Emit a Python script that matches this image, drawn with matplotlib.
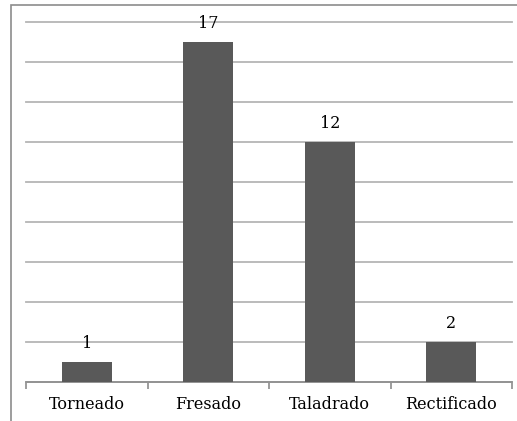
import matplotlib.pyplot as plt
from matplotlib.patches import Rectangle

categories = ["Torneado", "Fresado", "Taladrado", "Rectificado"]
values = [1, 17, 12, 2]

fig = plt.figure(figsize=(5.17, 4.21), dpi=100)
# outer frame (cropped at right and bottom in the reference)
fig.patches.append(Rectangle((11 / 517, -0.1), 1.0, (421 - 5) / 421 + 0.1,
                             transform=fig.transFigure, fill=False,
                             edgecolor="#8c8c8c", linewidth=1.2))

ax = fig.add_axes([26 / 517, 39 / 421, (512 - 26) / 517, (382 - 22) / 421])
x = range(len(categories))
ax.bar(x, values, width=0.41, color="#595959", zorder=3)
ax.set_xlim(-0.5, len(categories) - 0.5)
ax.set_ylim(0, 18)
ax.set_yticks(range(0, 19, 2))
ax.yaxis.grid(True, color="#b5b5b5", linewidth=1.3, zorder=0)
for gl in ax.get_ygridlines():
    gl.set_clip_on(False)
ax.tick_params(axis="y", length=0, labelleft=False)

for s in ["top", "right", "left"]:
    ax.spines[s].set_visible(False)
ax.spines["bottom"].set_color("#8c8c8c")
ax.spines["bottom"].set_linewidth(1.2)

ax.set_xticks([i - 0.5 for i in range(len(categories) + 1)], minor=False)
ax.set_xticklabels([])
ax.tick_params(axis="x", length=5, color="#8c8c8c", width=1.2)
ax.set_xticks(list(x), minor=True)
ax.set_xticklabels(categories, minor=True, fontfamily="DejaVu Serif", fontsize=11.5)
ax.tick_params(axis="x", which="minor", length=0, pad=10)

for i, v in enumerate(values):
    ax.annotate(str(v), (i, v), xytext=(0, 7), textcoords="offset points",
                ha="center", va="bottom", fontfamily="DejaVu Serif", fontsize=11.5)

fig.savefig("out.png", dpi=100)
